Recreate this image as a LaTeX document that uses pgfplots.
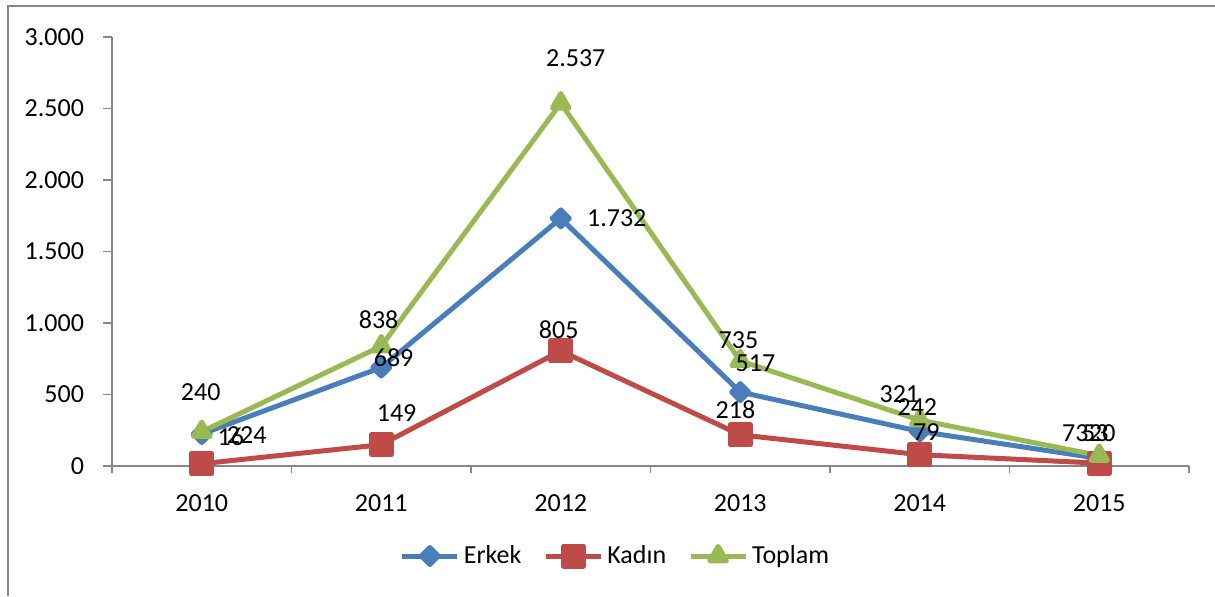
\documentclass[border=0pt]{standalone}
\usepackage{fontspec}
\setmainfont{Carlito}
\usepackage{pgfplots}
\pgfplotsset{compat=1.18}
\definecolor{erkek}{HTML}{4A7EBB}
\definecolor{kadin}{HTML}{BE4B48}
\definecolor{toplam}{HTML}{98B954}
\definecolor{axgray}{HTML}{868686}
\begin{document}
\fontsize{13}{15}\selectfont
\begin{tikzpicture}[font=\fontsize{13}{15}\selectfont]
\useasboundingbox (0,0) rectangle (607.5pt,-298pt);
\draw[axgray, line width=1pt] (4pt,-298pt) -- (4pt,-3pt) -- (607.5pt,-3pt);
\begin{axis}[
  at={(56pt,-233pt)}, anchor=south west,
  scale only axis, width=538.5pt, height=214.5pt,
  xmin=2009.5, xmax=2015.5, ymin=0, ymax=3000,
  clip=false,
  axis x line*=bottom, axis y line*=left,
  axis line style={axgray, line width=0.75pt, -},
  /pgf/number format/assume math mode=true,
  /pgf/number format/1000 sep={.},
  ytick={0,500,...,3000},
  tick align=outside,
  major tick length=4.5pt,
  tick style={axgray, line width=0.75pt},
  tick label style={font=\fontsize{13}{15}\selectfont},
  xtick={2010,2011,2012,2013,2014,2015},
  xticklabels={2010,2011,2012,2013,2014,2015},
  xtick style={draw=none},
  extra x ticks={2009.5,2010.5,2011.5,2012.5,2013.5,2014.5,2015.5},
  extra x tick labels={},
  extra x tick style={xtick style={draw=axgray}, major tick length=3.5pt},
  yticklabel style={xshift=-5pt},
  xticklabel style={yshift=-5.25pt},
  legend style={at={(0.4684,-0.2098)}, anchor=center, draw=none, legend columns=3,
    font=\fontsize{13}{15}\selectfont,
    /tikz/every even column/.append style={column sep=9pt}},
  legend image code/.code={\draw[mark repeat=2,mark phase=2,#1] plot coordinates {(0pt,0pt) (13.75pt,0pt) (27.5pt,0pt)};},
  every axis plot/.append style={line width=2.5pt, line join=round},
]
\addplot[erkek, mark=square*, mark size=3pt, mark options={rotate=45, fill=erkek, draw=none, solid}]
  table {
x y
2010 224
2011 689
2012 1732
2013 517
2014 242
2015 53
};
\addlegendentry{Erkek}
\addplot[kadin, mark=square*, mark size=5pt, mark options={fill=kadin, draw=none, solid}]
  table {
x y
2010 16
2011 149
2012 805
2013 218
2014 79
2015 20
};
\addlegendentry{Kadın}
\addplot[toplam, mark=triangle*, mark size=4.8pt, mark options={fill=toplam, draw=none, solid}]
  table {
x y
2010 240
2011 838
2012 2537
2013 735
2014 321
2015 73
};
\addlegendentry{Toplam}
\pgfplotsset{
  lblstyle/.style={draw=none, forget plot,
    nodes near coords={\pgfmathprintnumber{\pgfplotspointmeta}},
    point meta=explicit,
    visualization depends on={value \thisrow{dx}\as\dx},
    visualization depends on={value \thisrow{dy}\as\dy},
    every node near coord/.append style={anchor=center, xshift=\dx pt, yshift=\dy pt, text=black, font=\fontsize{13}{15}\selectfont}}}
\addplot[lblstyle] table[x=x, y=y, meta=y] {
x y dx dy
2010 224 22.5 -0.5
2011 689 6.2 4.75
2012 1732 28 0
2013 517 7.6 14.5
2014 242 -1.2 12.2
2015 53 -2 12.7
};
\addplot[lblstyle] table[x=x, y=y, meta=y] {
x y dx dy
2010 16 14.5 13.3
2011 149 7.7 15.8
2012 805 -1 10.5
2013 218 -2.4 12.4
2014 79 3.3 11.3
2015 20 1.5 15
};
\addplot[lblstyle] table[x=x, y=y, meta=y] {
x y dx dy
2010 240 -0.5 19.8
2011 838 -1.3 13
2012 2537 7.5 22.6
2013 735 -0.9 10.5
2014 321 -10.2 13
2015 73 -12 11.3
};
\end{axis}
\end{tikzpicture}
\end{document}
